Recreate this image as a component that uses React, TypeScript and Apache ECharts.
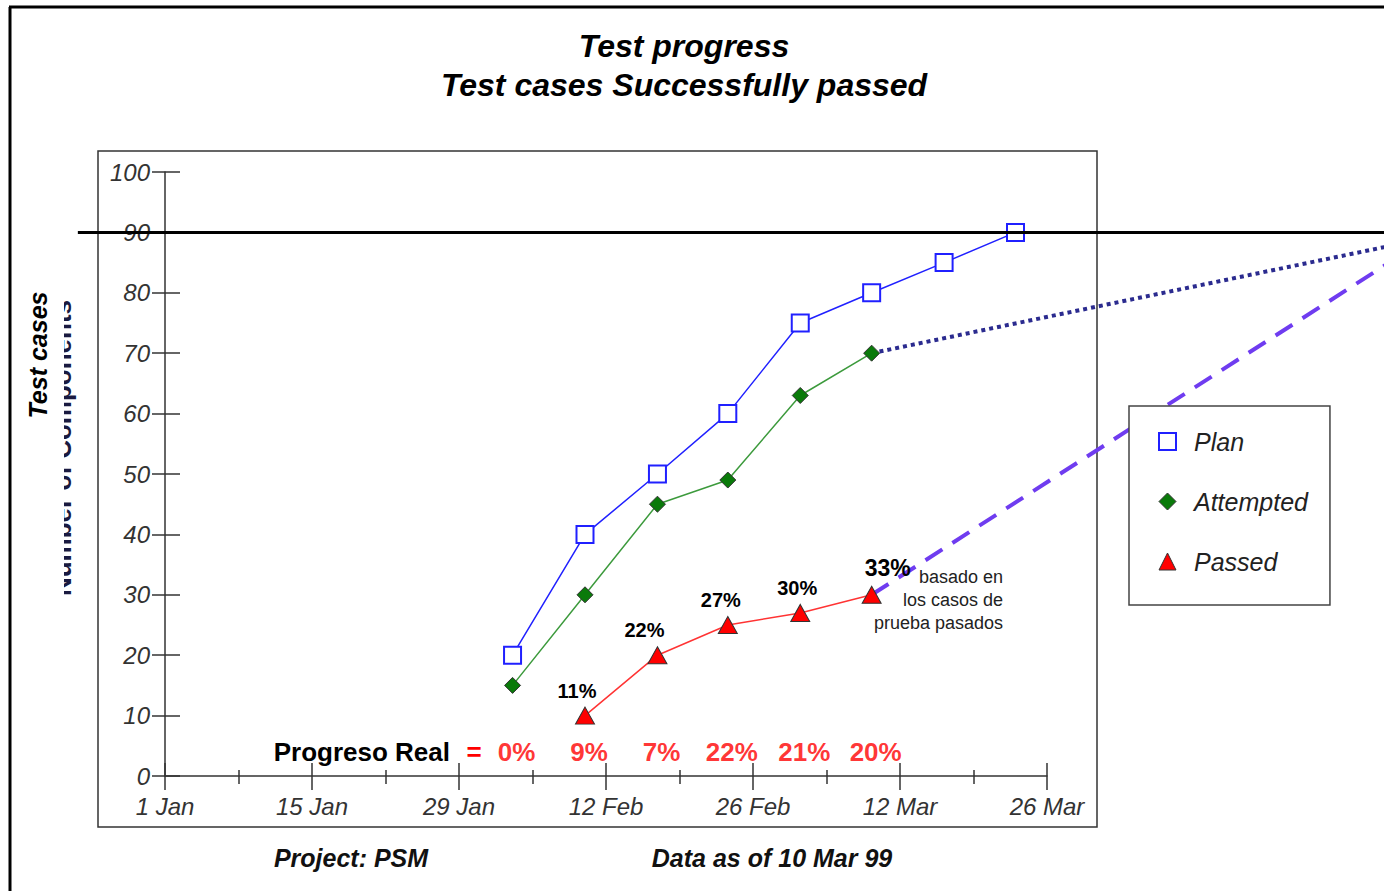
import React, { useEffect, useRef } from "react";
import * as echarts from "echarts";

// ---- data ----
const xTickLabels = ["1 Jan", "15 Jan", "29 Jan", "12 Feb", "26 Feb", "12 Mar", "26 Mar"];
const yTicks = [0, 10, 20, 30, 40, 50, 60, 70, 80, 90, 100];
// days since 1 Jan
const weekDays = [33.1, 40, 46.9, 53.6, 60.5, 67.3, 74.2, 81];
const planValues = [20, 40, 50, 60, 75, 80, 85, 90];
const attemptedValues = [15, 30, 45, 49, 63, 70];
const passedDays = [40, 46.9, 53.6, 60.5, 67.3];
const passedValues = [10, 20, 25, 27, 30];
const passedPct = ["11%", "22%", "27%", "30%", "33%"];
const progresoDays = [33.1, 40, 46.9, 53.6, 60.5, 67.3];
const progresoReal = ["0%", "9%", "7%", "22%", "21%", "20%"];
const progresoLevel = 4;
const targetValue = 90;
const targetSpan = [-8.3, 116.5];
const attemptedTrend = [[67.3, 70], [116.5, 87.7]];
const passedTrend = [[67.3, 30], [116.5, 84.9]];

const FONT = '"Liberation Sans", Arial, Helvetica, sans-serif';

const passedLabelOffsets = [[-8, 0], [-13, 0], [-7, 0], [-3, 0], [16, 0]];

export default function App() {
  const ref = useRef<HTMLDivElement>(null);

  useEffect(() => {
    document.body.style.margin = "0";
    if (!ref.current) return;
    const chart = echarts.init(ref.current, undefined, { renderer: "svg" });

    const planData = weekDays.map((d, i) => [d, planValues[i]]);
    const attemptedData = attemptedValues.map((v, i) => [weekDays[i], v]);
    const passedData = passedValues.map((v, i) => ({
      value: [passedDays[i], v],
      label: {
        formatter: passedPct[i],
        offset: passedLabelOffsets[i],
        fontSize: i === passedValues.length - 1 ? 23 : 20,
      },
    }));
    const progresoData = progresoReal.map((t, i) => ({
      value: [progresoDays[i], progresoLevel],
      label: { formatter: t },
    }));

    const axisColor = "#333";
    const xCommon = {
      type: "value",
      min: 0,
      max: 84,
      interval: 14,
      position: "bottom",
      splitLine: { show: false },
    };
    const yCommon = {
      type: "value",
      min: 0,
      max: 100,
      interval: 10,
      position: "left",
      splitLine: { show: false },
    };

    chart.setOption({
      animation: false,
      backgroundColor: "#fff",
      title: {
        text: "Test progress\nTest cases Successfully passed",
        left: 679,
        top: 21,
        textAlign: "center",
        textStyle: {
          fontFamily: FONT,
          fontSize: 32,
          fontWeight: "bold",
          fontStyle: "italic",
          color: "#000",
          lineHeight: 39,
        },
      },
      grid: { left: 165, right: 337, top: 172, bottom: 115, containLabel: false },
      legend: {
        orient: "vertical",
        left: 1129,
        top: 406,
        padding: [23, 22, 31, 29],
        itemGap: 35,
        itemWidth: 17,
        itemHeight: 17,
        borderColor: "#444",
        borderWidth: 1.5,
        backgroundColor: "#fff",
        textStyle: {
          fontFamily: FONT,
          fontSize: 25,
          fontStyle: "italic",
          color: "#222",
          lineHeight: 25,
          padding: [0, 0, 0, 13],
        },
        data: [
          { name: "Plan", icon: "rect", itemStyle: { color: "#fff", borderColor: "#2020ff", borderWidth: 2 } },
          { name: "Attempted", icon: "diamond", itemStyle: { color: "#0a7a0a", borderColor: "#333", borderWidth: 1 } },
          { name: "Passed", icon: "triangle", itemStyle: { color: "#ff0000", borderColor: "#333", borderWidth: 1 } },
        ],
      },
      xAxis: [
        {
          ...xCommon,
          axisLine: { show: true, lineStyle: { color: axisColor, width: 1.5 } },
          axisTick: { show: true, length: 14, lineStyle: { color: axisColor, width: 1.5 } },
          minorTick: { show: true, splitNumber: 2, length: 8, lineStyle: { color: axisColor, width: 1.5 } },
          axisLabel: {
            margin: 18,
            fontFamily: FONT,
            fontSize: 24,
            fontStyle: "italic",
            color: "#333",
            formatter: (v: number) => xTickLabels[Math.round(v / 14)] ?? "",
          },
        },
        {
          ...xCommon,
          axisLine: { show: false },
          axisTick: { show: true, inside: true, length: 13, lineStyle: { color: axisColor, width: 1.5 } },
          minorTick: { show: true, splitNumber: 2, length: 6, lineStyle: { color: axisColor, width: 1.5 } },
          axisLabel: { show: false },
        },
      ],
      yAxis: [
        {
          ...yCommon,
          axisLine: { show: true, lineStyle: { color: axisColor, width: 1.5 } },
          axisTick: { show: true, length: 13, lineStyle: { color: axisColor, width: 1.5 } },
          axisLabel: {
            margin: 15,
            fontFamily: FONT,
            fontSize: 24,
            fontStyle: "italic",
            color: "#333",
            formatter: (v: number) => (yTicks.includes(v) ? String(v) : ""),
          },
        },
        {
          ...yCommon,
          axisLine: { show: false },
          axisTick: { show: true, inside: true, length: 15, lineStyle: { color: axisColor, width: 1.5 } },
          axisLabel: { show: false },
        },
      ],
      series: [
        {
          name: "Plan",
          type: "line",
          data: planData,
          symbol: "rect",
          symbolSize: 17,
          showAllSymbol: true,
          lineStyle: { color: "#2020ff", width: 1.5 },
          itemStyle: { color: "#fff", borderColor: "#2020ff", borderWidth: 2 },
          z: 3,
        },
        {
          name: "Attempted",
          type: "line",
          data: attemptedData,
          symbol: "diamond",
          symbolSize: 16,
          lineStyle: { color: "#3c9a3c", width: 1.5 },
          itemStyle: { color: "#0a7a0a", borderColor: "#333", borderWidth: 1 },
          z: 3,
        },
        {
          name: "Passed",
          type: "line",
          data: passedData,
          symbol: "triangle",
          symbolSize: [19, 17],
          lineStyle: { color: "#ff3333", width: 1.5 },
          itemStyle: { color: "#ff0000", borderColor: "#333", borderWidth: 1 },
          label: {
            show: true,
            position: "top",
            distance: 6,
            fontFamily: FONT,
            fontWeight: "bold",
            color: "#000",
          },
          z: 4,
        },
        {
          name: "Progreso",
          type: "scatter",
          data: progresoData,
          symbolSize: 0,
          silent: true,
          label: {
            show: true,
            position: "inside",
            offset: [4, 0],
            fontFamily: FONT,
            fontWeight: "bold",
            fontSize: 26,
            color: "#ff0000",
          },
          z: 5,
        },
      ],
    });

    // Lines that run past the plotting area: positioned through the chart's own scales.
    const px = (p: number[]) => chart.convertToPixel({ xAxisIndex: 0, yAxisIndex: 0 }, p) as number[];
    const t0 = px([targetSpan[0], targetValue]);
    const t1 = px([targetSpan[1], targetValue]);
    const a0 = px(attemptedTrend[0]);
    const a1 = px(attemptedTrend[1]);
    const p0 = px(passedTrend[0]);
    const p1 = px(passedTrend[1]);

    const center = { align: "center", verticalAlign: "middle", textAlign: "center", textVerticalAlign: "middle" };

    chart.setOption({
      graphic: {
        elements: [
          {
            type: "line",
            shape: { x1: 10, y1: 7, x2: 10, y2: 891 },
            style: { stroke: "#000", lineWidth: 3 },
          },
          {
            type: "line",
            shape: { x1: 9, y1: 7, x2: 1384, y2: 7 },
            style: { stroke: "#000", lineWidth: 3 },
          },
          {
            type: "rect",
            shape: { x: 98, y: 151, width: 999, height: 676 },
            style: { fill: "none", stroke: "#333", lineWidth: 1.5 },
            z: -1,
          },
          {
            type: "line",
            shape: { x1: t0[0], y1: t0[1], x2: t1[0], y2: t1[1] },
            style: { stroke: "#000", lineWidth: 3 },
            z: 6,
          },
          {
            type: "line",
            shape: { x1: a0[0], y1: a0[1], x2: a1[0], y2: a1[1] },
            style: { stroke: "#2b2b8f", lineWidth: 4, lineDash: [4, 4] },
            z: 2,
          },
          {
            type: "line",
            shape: { x1: p0[0], y1: p0[1], x2: p1[0], y2: p1[1] },
            style: { stroke: "#6f3cf0", lineWidth: 4, lineDash: [20, 12] },
            z: 2,
          },
          {
            type: "text",
            x: 62,
            y: 448,
            rotation: Math.PI / 2,
            style: {
              text: "Number of Components",
              font: `bold 26px ${FONT}`,
              fill: "#1a1a40",
              ...center,
            },
          },
          {
            type: "rect",
            shape: { x: 50, y: 290, width: 14, height: 320 },
            style: { fill: "#fff" },
          },
          {
            type: "text",
            x: 38,
            y: 355,
            rotation: Math.PI / 2,
            style: {
              text: "Test cases",
              font: `italic bold 25px ${FONT}`,
              fill: "#000",
              ...center,
            },
          },
          {
            type: "text",
            x: 450,
            y: 752,
            style: {
              text: "Progreso Real",
              font: `bold 26px ${FONT}`,
              fill: "#000",
              align: "right",
              verticalAlign: "middle",
              textAlign: "right",
              textVerticalAlign: "middle",
            },
          },
          {
            type: "text",
            x: 474,
            y: 752,
            style: {
              text: "=",
              font: `bold 26px ${FONT}`,
              fill: "#ff0000",
              ...center,
            },
          },
          {
            type: "text",
            x: 1003,
            y: 565,
            style: {
              text: "basado en\nlos casos de\nprueba pasados",
              font: `18px ${FONT}`,
              lineHeight: 23,
              fill: "#222",
              align: "right",
              verticalAlign: "top",
              textAlign: "right",
              textVerticalAlign: "top",
            },
          },
          {
            type: "text",
            x: 351,
            y: 858,
            style: {
              text: "Project: PSM",
              font: `italic bold 25px ${FONT}`,
              fill: "#111",
              ...center,
            },
          },
          {
            type: "text",
            x: 772,
            y: 858,
            style: {
              text: "Data as of 10 Mar 99",
              font: `italic bold 25px ${FONT}`,
              fill: "#111",
              ...center,
            },
          },
        ],
      },
    });

    return () => chart.dispose();
  }, []);

  return <div ref={ref} style={{ width: 1384, height: 891 }} />;
}
